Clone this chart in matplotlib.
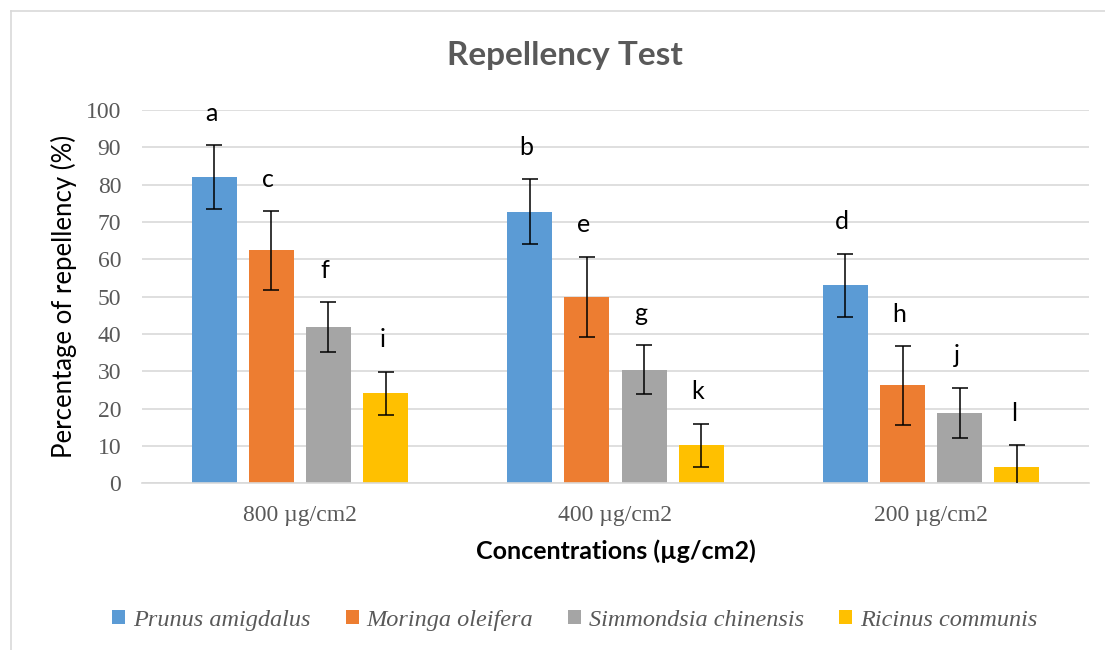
import matplotlib
matplotlib.use('Agg')
import matplotlib.pyplot as plt
import numpy as np
from matplotlib.patches import Patch
from matplotlib.lines import Line2D

concentrations = ['800 µg/cm2', '400 µg/cm2', '200 µg/cm2']
species = ['Prunus amigdalus', 'Moringa oleifera', 'Simmondsia chinensis', 'Ricinus communis']
colors = ['#5B9BD5', '#ED7D31', '#A5A5A5', '#FFC000']

# mean repellency (%) per species, one value per concentration
prunus = [82.0, 72.8, 53.0]
moringa = [62.4, 50.0, 26.2]
simmondsia = [41.9, 30.4, 18.9]
ricinus = [24.1, 10.2, 4.4]

# error bar half-widths
prunus_err = [8.6, 8.6, 8.5]
moringa_err = [10.6, 10.7, 10.6]
simmondsia_err = [6.6, 6.6, 6.7]
ricinus_err = [5.8, 5.8, 5.9]

# significance letters
prunus_let = ['a', 'b', 'd']
moringa_let = ['c', 'e', 'h']
simmondsia_let = ['f', 'g', 'j']
ricinus_let = ['i', 'k', 'l']

values = [prunus, moringa, simmondsia, ricinus]
errors = [prunus_err, moringa_err, simmondsia_err, ricinus_err]
letters = [prunus_let, moringa_let, simmondsia_let, ricinus_let]

sans = 'Lato'
serif = 'Liberation Serif'
grey = '#595959'

fig = plt.figure(figsize=(11.05, 6.5), dpi=100)
ax = fig.add_axes([0.1285, 0.2565, 0.857, 0.5743])

x = np.arange(len(concentrations))
pitch = 0.181
width = 0.1424
for i, (vals, errs, lets) in enumerate(zip(values, errors, letters)):
    pos = x + (i - 1.5) * pitch
    ax.bar(pos, vals, width, color=colors[i], zorder=2)
    ax.errorbar(pos, vals, yerr=errs, fmt='none', ecolor='black',
                elinewidth=1.1, capsize=5.5, capthick=1.1, zorder=3)
    for p, v, e, l in zip(pos, vals, errs, lets):
        ax.text(p - 0.01, v + e + 6.5, l, ha='center', va='baseline',
                fontsize=18, family=sans, color='black')

ax.set_xlim(-0.5, 2.5)
ax.set_ylim(0, 100)
ax.set_yticks(np.arange(0, 101, 10))
ax.set_xticks(x)
ax.set_xticklabels(concentrations)
ax.grid(axis='y', color='#D9D9D9', linewidth=1.2, zorder=0)
ax.set_axisbelow(True)
for s in ['top', 'right', 'left']:
    ax.spines[s].set_visible(False)
ax.spines['bottom'].set_color('#D9D9D9')
ax.spines['bottom'].set_linewidth(1.2)
ax.tick_params(axis='both', length=0, labelcolor=grey, labelsize=17)
ax.tick_params(axis='y', pad=15)
ax.tick_params(axis='x', pad=16)
for lab in ax.get_xticklabels() + ax.get_yticklabels():
    lab.set_family(serif)

ax.set_ylabel('Percentage of repellency (%)', fontsize=18.5, family=sans,
              color='black', labelpad=6)
ax.set_xlabel('Concentrations (µg/cm2)', fontsize=18, family=sans,
              fontweight='bold', color='black', labelpad=9)

fig.text(0.511, 0.914, 'Repellency Test', ha='center', va='center',
         fontsize=24, family=sans, fontweight='bold', color=grey)

handles = [Patch(facecolor=c) for c in colors]
leg = fig.legend(handles, species, loc='center', bbox_to_anchor=(0.52, 0.046),
                 ncol=4, frameon=False, handlelength=0.55, handleheight=0.55,
                 handletextpad=0.3, columnspacing=1.45,
                 prop={'family': serif, 'style': 'italic', 'size': 17.5})
for t in leg.get_texts():
    t.set_color(grey)

# chart area border (only top and left are inside the image)
fig.add_artist(Line2D([11 / 1105, 11 / 1105], [0, 1 - 11 / 650],
                      transform=fig.transFigure, color='#D9D9D9', linewidth=1.2))
fig.add_artist(Line2D([11 / 1105, 1], [1 - 11 / 650, 1 - 11 / 650],
                      transform=fig.transFigure, color='#D9D9D9', linewidth=1.2))

fig.savefig('out.png', dpi=100)
